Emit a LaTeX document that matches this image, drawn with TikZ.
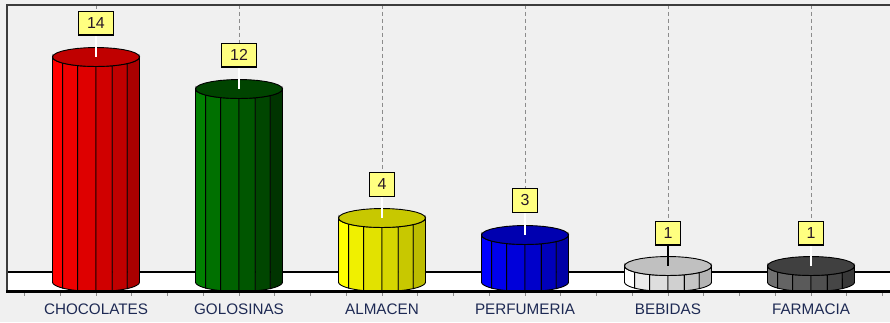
\documentclass[tikz,border=0pt]{standalone}
\usepackage{fontspec}
\setmainfont{Liberation Sans}
\definecolor{bg}{RGB}{240,240,240}
\definecolor{boxfill}{RGB}{255,255,128}
\definecolor{labtxt}{RGB}{30,42,84}
\definecolor{numtxt}{RGB}{40,24,40}
\definecolor{grid}{RGB}{140,140,140}
\definecolor{frame}{RGB}{60,60,60}
% red
\definecolor{cr1}{RGB}{255,0,0}\definecolor{cr2}{RGB}{238,0,0}\definecolor{cr3}{RGB}{222,0,0}
\definecolor{cr4}{RGB}{208,0,0}\definecolor{cr5}{RGB}{192,0,0}\definecolor{cr6}{RGB}{170,0,0}
\definecolor{crt}{RGB}{192,0,0}
% green
\definecolor{cg1}{RGB}{0,128,0}\definecolor{cg2}{RGB}{0,112,0}\definecolor{cg3}{RGB}{0,98,0}
\definecolor{cg4}{RGB}{0,86,0}\definecolor{cg5}{RGB}{0,70,0}\definecolor{cg6}{RGB}{0,52,0}
\definecolor{cgt}{RGB}{0,68,0}
% yellow
\definecolor{cy1}{RGB}{255,255,0}\definecolor{cy2}{RGB}{240,240,0}\definecolor{cy3}{RGB}{226,226,0}
\definecolor{cy4}{RGB}{214,214,0}\definecolor{cy5}{RGB}{200,200,0}\definecolor{cy6}{RGB}{188,188,0}
\definecolor{cyt}{RGB}{200,200,0}
% blue
\definecolor{cb1}{RGB}{0,0,255}\definecolor{cb2}{RGB}{0,0,236}\definecolor{cb3}{RGB}{0,0,218}
\definecolor{cb4}{RGB}{0,0,202}\definecolor{cb5}{RGB}{0,0,186}\definecolor{cb6}{RGB}{0,0,166}
\definecolor{cbt}{RGB}{0,0,176}
% light gray
\definecolor{cw1}{RGB}{255,255,255}\definecolor{cw2}{RGB}{236,236,236}\definecolor{cw3}{RGB}{222,222,222}
\definecolor{cw4}{RGB}{208,208,208}\definecolor{cw5}{RGB}{196,196,196}\definecolor{cw6}{RGB}{180,180,180}
\definecolor{cwt}{RGB}{192,192,192}
% dark gray
\definecolor{ck1}{RGB}{112,112,112}\definecolor{ck2}{RGB}{100,100,100}\definecolor{ck3}{RGB}{90,90,90}
\definecolor{ck4}{RGB}{80,80,80}\definecolor{ck5}{RGB}{70,70,70}\definecolor{ck6}{RGB}{56,56,56}
\definecolor{ckt}{RGB}{64,64,64}

\newcommand{\mycyl}[4]{%
  \foreach \a/\b/\i in {180/140/1,140/115/2,115/90/3,90/68/4,68/44/5,44/0/6}{%
    \filldraw[draw=black, line width=0.9, fill=#3\i]
      plot[domain=\a:\b, samples=7] ({#1+43.5*cos(\x)},{282+9.5*sin(\x)})
      -- plot[domain=\b:\a, samples=7] ({#1+43.5*cos(\x)},{#2+9.5*sin(\x)}) -- cycle;
  }%
  \filldraw[draw=black, line width=0.9, fill=#3t]
    plot[domain=0:360, samples=29] ({#1+43.5*cos(\x)},{#2+9.5*sin(\x)}) -- cycle;
  \coordinate (#4) at (#1,#2);
}

\tikzset{
  valbox/.style={draw=black, line width=1.1, fill=boxfill, text=numtxt,
    font=\fontsize{16}{18}\selectfont, inner xsep=8.5pt, inner ysep=0pt,
    minimum height=24pt, anchor=center},
  catlab/.style={text=labtxt, font=\fontsize{15.3}{18}\selectfont, inner sep=0pt, anchor=center},
  gridline/.style={draw=grid, line width=0.8, dash pattern=on 4pt off 3pt},
  conn/.style={draw=white, line width=1.3},
}

\begin{document}
\begin{tikzpicture}[x=1bp, y=-1bp]
  \useasboundingbox (0,0) rectangle (890,322);
  \fill[bg] (0,0) rectangle (890,322);

  % gridline tops
  \foreach \c/\n in {96/1,239/2,382/3,525/4,668/5,811/6}{
    \coordinate (g\n) at (\c,5);
  }
  % value boxes
  \node[valbox] (v1) at (96,23) {14};
  \node[valbox] (v2) at (239,55) {12};
  \node[valbox] (v3) at (382,184.5) {4};
  \node[valbox] (v4) at (525,200.5) {3};
  \node[valbox] (v5) at (668,233) {1};
  \node[valbox] (v6) at (811,233) {1};

  \foreach \n in {1,...,6}{
    \draw[gridline] (g\n) -- (v\n.north);
  }

  % floor
  \fill[white] (7,272) rectangle (890,291);
  \draw[black, line width=1.2] (7,272) -- (890,272);

  % cylinders
  \mycyl{96}{57}{cr}{t1}
  \mycyl{239}{89}{cg}{t2}
  \mycyl{382}{218}{cy}{t3}
  \mycyl{525}{235}{cb}{t4}
  \mycyl{668}{266}{cw}{t5}
  \mycyl{811}{266}{ck}{t6}

  % connectors from boxes to tops
  \draw[conn] (v1.south) -- (t1);
  \draw[conn] (v2.south) -- (t2);
  \draw[conn] (v3.south) -- (t3);
  \draw[conn] (v4.south) -- (t4);
  \draw[conn, draw=black] (v5.south) -- (t5);
  \draw[conn] (v6.south) -- (t6);

  % redraw boxes on top
  \node[valbox] at (v1) {14};
  \node[valbox] at (v2) {12};
  \node[valbox] at (v3) {4};
  \node[valbox] at (v4) {3};
  \node[valbox] at (v5) {1};
  \node[valbox] at (v6) {1};

  % frame
  \draw[frame, line width=2] (7,291) -- (7,5) -- (890,5);
  \draw[black, line width=2.4] (6,291.5) -- (890,291.5);
  \foreach \k in {-2,...,22}{
    \draw[grid, line width=0.8] ({96+35.75*\k},293) -- ({96+35.75*\k},296);
  }

  % category labels
  \node[catlab] (l1) at (96,309.5) {CHOCOLATES};
  \node[catlab] (l2) at (239,309.5) {GOLOSINAS};
  \node[catlab] (l3) at (382,309.5) {ALMACEN};
  \node[catlab] (l4) at (525,309.5) {PERFUMERIA};
  \node[catlab] (l5) at (668,309.5) {BEBIDAS};
  \node[catlab] (l6) at (811,309.5) {FARMACIA};
\end{tikzpicture}
\end{document}
